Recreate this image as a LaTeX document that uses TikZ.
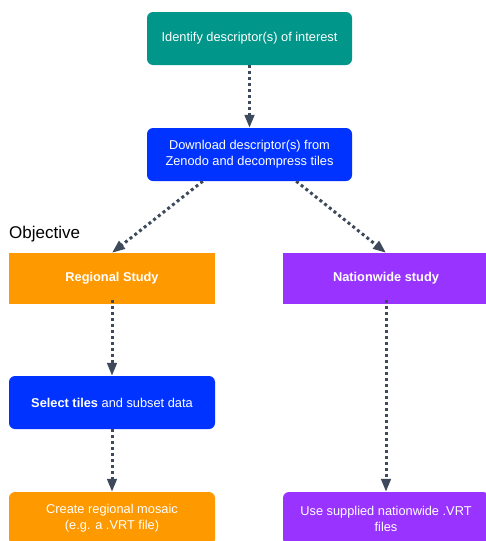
\documentclass[tikz,border=0pt]{standalone}
\usepackage{fontspec}
\setmainfont{Liberation Sans}
\usetikzlibrary{arrows.meta}
\definecolor{cteal}{HTML}{00968A}
\definecolor{cblue}{HTML}{0033FF}
\definecolor{corange}{HTML}{FF9900}
\definecolor{cpurple}{HTML}{9933FF}
\definecolor{carrow}{HTML}{3E4A5B}
\begin{document}
\begin{tikzpicture}[x=1pt,y=-1pt,
  box/.style={fill=#1,draw=none,text=white,align=center,minimum width=205pt,minimum height=53pt,inner sep=0pt,font=\fontsize{12.8}{16}\selectfont},
  rbox/.style={box=#1,rounded corners=6pt},
  conn/.style={draw=carrow,line width=3pt,dash pattern=on 3pt off 3pt,-{Triangle[length=13pt,width=9.5pt]}}]
\useasboundingbox (0,0) rectangle (485,541);
\node[rbox=cteal] (ident) at (249.5,38.5) {Identify descriptor(s) of interest};
\node[rbox=cblue] (dl) at (249.5,154.5) {Download descriptor(s) from\\Zenodo and decompress tiles};
\node[anchor=base west,inner sep=0pt,font=\fontsize{17}{20}\selectfont] (obj) at (9,238) {Objective};
\node[box=corange,minimum width=206pt,minimum height=51pt] (reg) at (112,278.5) {\textbf{Regional Study}};
\node[box=cpurple,minimum width=206pt,minimum height=51pt] (nat) at (386,278.5) {\textbf{Nationwide study}};
\node[rbox=cblue,minimum width=206pt] (sel) at (112,402.5) {\textbf{Select tiles} and subset data};
\node[rbox=corange,minimum width=206pt] (cre) at (112,518.5) {Create regional mosaic\\(e.g. a .VRT file)};
\node[rbox=cpurple,minimum width=206pt] (use) at (386,518.5) {Use supplied nationwide .VRT\\files};
\draw[conn] (ident.south) -- (dl.north);
\draw[conn] ([xshift=56pt]dl.south west) -- (reg.north);
\draw[conn] ([xshift=-56pt]dl.south east) -- (nat.north);
\draw[conn] ([yshift=4pt]reg.south) -- (sel.north);
\draw[conn] ([yshift=4pt]nat.south) -- (use.north);
\draw[conn] (sel.south) -- (cre.north);
\end{tikzpicture}
\end{document}
